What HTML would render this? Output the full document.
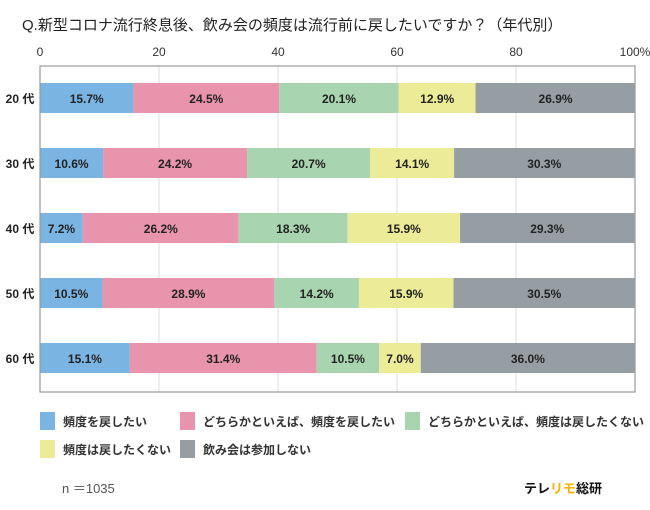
<!DOCTYPE html>
<html><head><meta charset="utf-8"><style>
body{margin:0;background:#fff;font-family:"Liberation Sans","Noto Sans CJK JP",sans-serif;}
svg text{font-family:"Liberation Sans","Noto Sans CJK JP",sans-serif;}
</style></head><body>
<svg id="c" width="650" height="505">
<text x="22" y="30" font-size="15" fill="#222">Q.新型コロナ流行終息後、飲み会の頻度は流行前に戻したいですか？（年代別）</text>
<g id="grid"></g><g id="bars"></g><g id="axis"></g>
<rect x="40" y="66" width="595" height="326" fill="none" stroke="#999" stroke-width="1.2"/>
<g id="legend"></g>
<text x="62" y="493" font-size="13" fill="#555">n ＝1035</text>
<text x="524" y="493" font-size="13" font-weight="bold" fill="#111">テレ<tspan fill="#f5b400">リモ</tspan>総研</text>
</svg>
<script>
const categories=["20代","30代","40代","50代","60代"];
const seriesNames=["頻度を戻したい","どちらかといえば、頻度を戻したい","どちらかといえば、頻度は戻したくない","頻度は戻したくない","飲み会は参加しない"];
const s1=[15.7,10.6,7.2,10.5,15.1];
const s2=[24.5,24.2,26.2,28.9,31.4];
const s3=[20.1,20.7,18.3,14.2,10.5];
const s4=[12.9,14.1,18.9,15.9,7.0];
const s5=[26.9,30.3,29.3,30.5,36.0];
const labelsS4=["12.9%","14.1%","15.9%","15.9%","7.0%"];
const ticks=[0,20,40,60,80,100];
const series=[s1,s2,s3,s4,s5];
const colors=["#7ab4e3","#e994ad","#a8d5b0","#ecec98","#969ea4"];
const NS="http://www.w3.org/2000/svg";
const x=v=>40+v*5.95;
const yc=i=>98+i*65;
function mk(t,a,p){const e=document.createElementNS(NS,t);for(const k in a)e.setAttribute(k,a[k]);p.appendChild(e);return e;}
const g=document.getElementById('grid'),b=document.getElementById('bars'),ax=document.getElementById('axis'),lg=document.getElementById('legend');
ticks.forEach(t=>{
 const l=mk('line',{x1:x(t),x2:x(t),y1:66,y2:392,stroke:'#ddd'},g);
 
 
 const tx=mk('text',{x:x(t),y:56,'font-size':12,'text-anchor':'middle',fill:'#333'},ax);
 tx.textContent=t===100?'100%':t;
 
 
});
categories.forEach((c,i)=>{
 const cl=mk('text',{x:20,y:yc(i)+5,'font-size':12,'font-weight':'bold','text-anchor':'middle',fill:'#222'},ax);
 cl.textContent=c.replace('代',' 代');
 
 
 let acc=0;
 series.forEach((s,j)=>{
  const v=s[i];
  const r=mk('rect',{x:x(acc),y:yc(i)-15,width:Math.min(x(acc+v),635)-x(acc),height:30,fill:colors[j]},b);
  
  
  const t=mk('text',{x:x(acc+v/2),y:yc(i)+5,'font-size':12,'font-weight':'bold','text-anchor':'middle',fill:'#222'},b);
  t.textContent=j===3?labelsS4[i]:v.toFixed(1)+'%';
  
  
  acc+=v;
 });
});
const lpos=[[40,412],[180,412],[405,412],[40,440],[180,440]];
seriesNames.forEach((n,j)=>{
 const [lx,ly]=lpos[j];
 const r=mk('rect',{x:lx,y:ly,width:15,height:18,fill:colors[j]},lg);
 
 
 const t=mk('text',{x:lx+23,y:ly+14,'font-size':12,'font-weight':'bold',fill:'#333'},lg);
 t.textContent=n;
 
 
});
</script>
</body></html>
